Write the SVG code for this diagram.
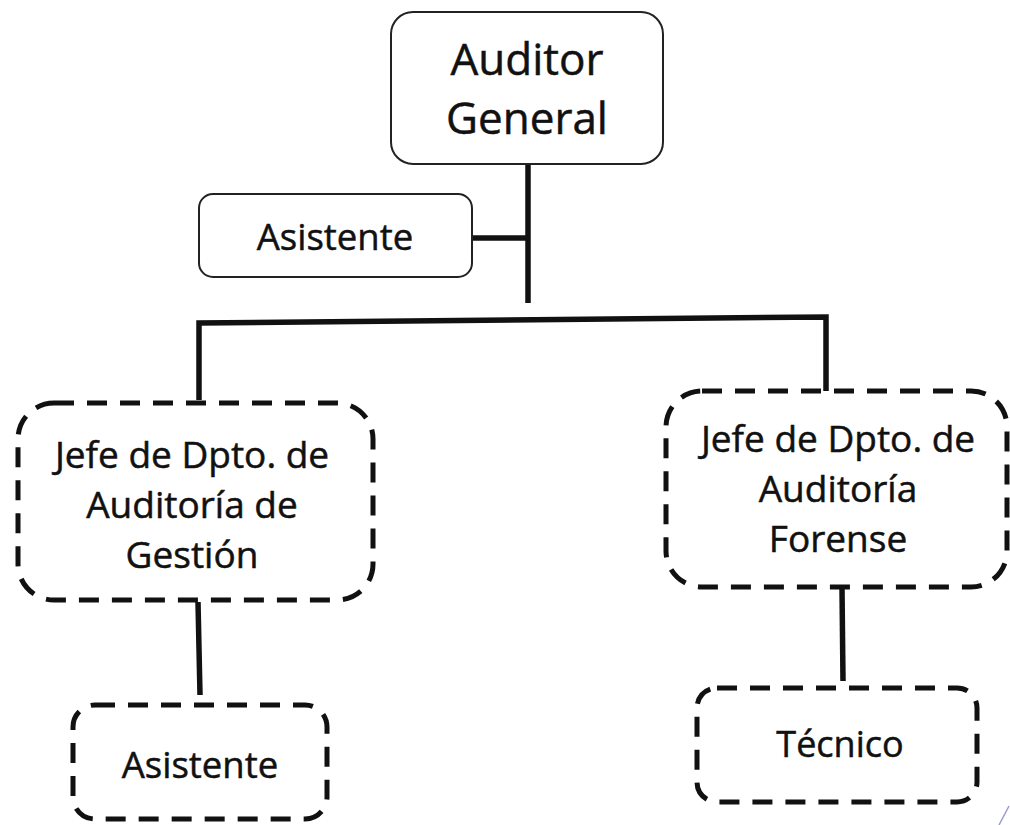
<svg xmlns="http://www.w3.org/2000/svg" width="1010" height="825" viewBox="0 0 1010 825">
  <style>
    .solid { fill: #fff; stroke: #222; stroke-width: 2; }
    .dashed { fill: #fff; stroke: #111; stroke-width: 5; stroke-dasharray: 20 13; }
    .conn { fill: none; stroke: #111; stroke-width: 5.5; stroke-linecap: butt; }
    .lbl { font-family: "Open Sans", "Liberation Sans", sans-serif; fill: #111; stroke: #111; stroke-width: 0.5; text-anchor: middle; }
  </style>
  <rect width="1010" height="825" fill="#fff"/>
  <g id="connectors">
    <path class="conn" d="M528 165 V303"/>
    <path class="conn" d="M472 238 H528"/>
    <path class="conn" d="M199 400 V323 L826 317 V392"/>
    <path class="conn" d="M198 602 L200 695"/>
    <path class="conn" d="M842 588 L843 681"/>
  </g>
  <g id="auditor-general">
    <rect class="solid" x="391" y="12" width="272" height="152" rx="22"/>
    <text class="lbl" x="527" y="75" font-size="44">Auditor</text>
    <text class="lbl" x="527" y="134" font-size="44">General</text>
  </g>
  <g id="asistente-top">
    <rect class="solid" x="199" y="194" width="273" height="83" rx="14"/>
    <text class="lbl" x="335" y="250" font-size="36.5">Asistente</text>
  </g>
  <g id="jefe-gestion">
    <rect class="dashed" x="18" y="403" width="355" height="197" rx="36"/>
    <text class="lbl" x="192" y="468" font-size="37">Jefe de Dpto. de</text>
    <text class="lbl" x="192" y="518" font-size="37">Auditoría de</text>
    <text class="lbl" x="192" y="568" font-size="37">Gestión</text>
  </g>
  <g id="jefe-forense">
    <rect class="dashed" x="666" y="391" width="341" height="196" rx="36"/>
    <text class="lbl" x="838" y="452" font-size="37">Jefe de Dpto. de</text>
    <text class="lbl" x="838" y="502" font-size="37">Auditoría</text>
    <text class="lbl" x="838" y="552" font-size="37">Forense</text>
  </g>
  <g id="asistente-gestion">
    <rect class="dashed" x="73" y="705" width="254" height="114" rx="22"/>
    <text class="lbl" x="200" y="778" font-size="36.5">Asistente</text>
  </g>
  <g id="tecnico">
    <rect class="dashed" x="697" y="688" width="280" height="114" rx="20"/>
    <text class="lbl" x="840" y="757" font-size="36">Técnico</text>
  </g>
  <path d="M1009 806 L999 825" stroke="#9a9ad2" stroke-width="1.5" fill="none"/>
</svg>
